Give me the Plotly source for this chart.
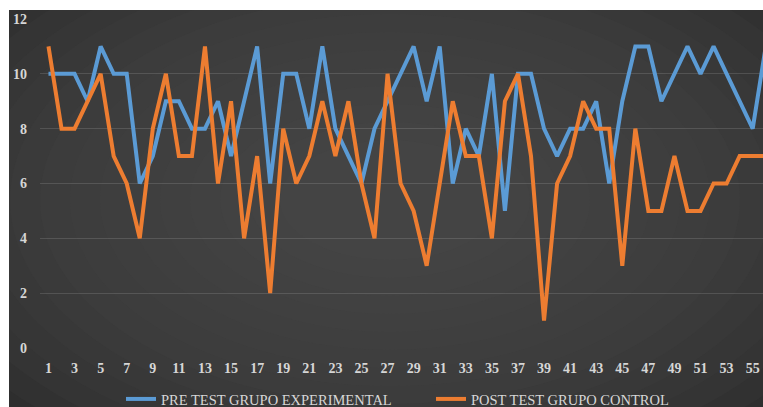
import plotly.graph_objects as go

# ---- data ----
participants = list(range(1, 57))
pre_test_experimental = [10, 10, 10, 9, 11, 10, 10, 6, 7, 9,
                         9, 8, 8, 9, 7, 9, 11, 6, 10, 10,
                         8, 11, 8, 7, 6, 8, 9, 10, 11, 9,
                         11, 6, 8, 7, 10, 5, 10, 10, 8, 7,
                         8, 8, 9, 6, 9, 11, 11, 9, 10, 11,
                         10, 11, 10, 9, 8, 11]
post_test_control = [11, 8, 8, 9, 10, 7, 6, 4, 8, 10,
                     7, 7, 11, 6, 9, 4, 7, 2, 8, 6,
                     7, 9, 7, 9, 6, 4, 10, 6, 5, 3,
                     6, 9, 7, 7, 4, 9, 10, 7, 1, 6,
                     7, 9, 8, 8, 3, 8, 5, 5, 7, 5,
                     5, 6, 6, 7, 7, 7]
tick_vals = list(range(1, 57, 2))
series_names = ["PRE TEST GRUPO EXPERIMENTAL", "POST TEST GRUPO CONTROL"]

W, H = 763, 407
L, R, T, B = 40, 0, 19, 59
PW, PH = W - L - R, H - T - B

def px(x):
    return (x - L) / PW

def py(y):
    return (H - B - y) / PH

FONT = "Liberation Serif"
TXT = "#d6d6d6"

fig = go.Figure()
fig.add_trace(go.Scatter(x=participants, y=pre_test_experimental, mode="lines",
                         name=series_names[0],
                         line=dict(color="#5b9bd5", width=4, shape="linear")))
fig.add_trace(go.Scatter(x=participants, y=post_test_control, mode="lines",
                         name=series_names[1],
                         line=dict(color="#ed7d31", width=4, shape="linear")))

shapes = []
# vignette: concentric ellipses lighter toward centre
cx, cy = 390, 200
n = 16
for i in range(n):
    rx = 560 - i * 30
    ry = 330 - i * 18
    shapes.append(dict(type="circle", xref="paper", yref="paper", layer="below",
                       x0=px(cx - rx), x1=px(cx + rx), y0=py(cy + ry), y1=py(cy - ry),
                       fillcolor="rgba(80,80,80,0.10)", line=dict(width=0)))
# white margins (top and left) of the cropped picture
shapes.append(dict(type="rect", xref="paper", yref="paper", layer="below",
                   x0=px(-5), x1=px(W + 5), y0=py(10), y1=py(-5),
                   fillcolor="white", line=dict(width=0)))
shapes.append(dict(type="rect", xref="paper", yref="paper", layer="below",
                   x0=px(-5), x1=px(9), y0=py(H + 5), y1=py(-5),
                   fillcolor="white", line=dict(width=0)))

fig.update_layout(
    width=W, height=H,
    margin=dict(l=L, r=R, t=T, b=B, pad=0, autoexpand=False),
    paper_bgcolor="#282828",
    plot_bgcolor="rgba(0,0,0,0)",
    font=dict(family=FONT, size=14, color=TXT),
    shapes=shapes,
    showlegend=True,
    legend=dict(orientation="h", x=px(121), xanchor="left", y=py(399), yanchor="middle",
                font=dict(family=FONT, size=14.5, color=TXT),
                bgcolor="rgba(0,0,0,0)", itemwidth=30,
                entrywidth=265, entrywidthmode="pixels"),
    xaxis=dict(range=[0.35, 55.79], tickmode="array", tickvals=tick_vals,
               ticktext=[str(v) for v in tick_vals], showgrid=False, zeroline=False,
               showline=False, ticks="", automargin=False,
               tickfont=dict(family=FONT, size=14, color=TXT, weight="bold"),
               ticklabelstandoff=10),
    yaxis=dict(range=[0, 12], tickvals=[0, 2, 4, 6, 8, 10, 12], showgrid=True,
               gridcolor="rgba(255,255,255,0.13)", gridwidth=1, zeroline=False,
               showline=False, ticks="", automargin=False,
               tickfont=dict(family=FONT, size=14, color=TXT, weight="bold"),
               ticklabelstandoff=12),
)

post = ("document.documentElement.style.overflow='hidden';"
        "document.body.style.overflow='hidden';"
        "document.body.style.margin='0';")
fig.write_html("out.html", post_script=post, config={"displayModeBar": False})
